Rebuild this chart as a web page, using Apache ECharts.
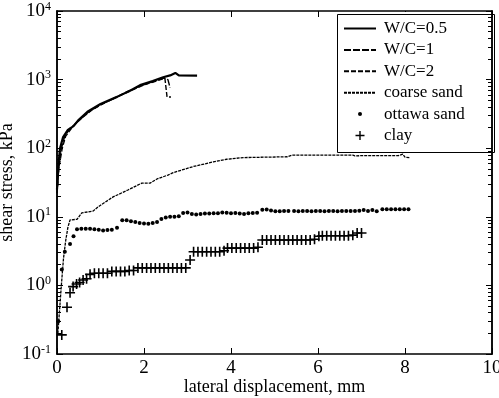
<!DOCTYPE html>
<html>
<head>
<meta charset="utf-8">
<script src="https://cdn.jsdelivr.net/npm/echarts@6/dist/echarts.min.js"></script>
<style>
  html, body { margin: 0; padding: 0; background: #fff; }
  #chart { width: 499px; height: 398px; }
</style>
</head>
<body>
<div id="chart"></div>
<script>
// tick labels
const xTicks = [0, 2, 4, 6, 8, 10];
const yDecades = [0.1, 1, 10, 100, 1000, 10000];
const minorSteps = [2, 3, 4, 5, 6, 7, 8, 9];

// series [displacement mm, stress kPa]
const wc05 = [[0,25],[0.03,55],[0.07,100],[0.14,145],[0.25,185],[0.38,210],[0.5,260],[0.7,340],[1.0,440],
  [1.38,560],[1.7,700],[1.91,830],[2.2,950],[2.44,1080],[2.6,1150],[2.72,1250],[2.8,1150],[3.22,1140]];
const wc1 = [[0.01,28],[0.05,60],[0.1,100],[0.18,150],[0.3,195],[0.4,220],[0.55,270],[0.75,345],[1.0,430],
  [1.3,530],[1.6,660],[1.9,800],[2.2,930],[2.45,1050],[2.55,1000],[2.6,760]];
const wc2 = [[0,22],[0.04,50],[0.12,100],[0.2,150],[0.32,190],[0.42,225],[0.6,285],[0.8,360],[1.1,460],
  [1.4,570],[1.7,690],[2.0,840],[2.3,960],[2.48,1050],[2.53,557],[2.62,557]];
const coarseSand = [[0.02,0.2],[0.1,1],[0.15,2.5],[0.2,4.5],[0.25,7],[0.3,9],[0.46,9.2],[0.57,11.4],[0.83,12.1],
  [0.94,13.9],[1.29,19.5],[1.63,24.6],[1.95,31],[2.14,31],[2.3,35.6],[2.55,40.6],[2.67,44],[3.13,54],[3.59,63],
  [3.9,69],[4.28,73],[5.29,75],[5.4,79],[6.8,79],[6.85,77],[7.0,78],[7.85,78],[7.95,82],[8.0,74],[8.1,73]];
const ottawaSand = [[0.03,0.3],[0.11,1.7],[0.18,3.1],[0.3,4.0],[0.38,5.2],[0.46,6.6],[0.56,6.7],[0.66,6.7],
  [0.76,6.7],[0.86,6.6],[0.96,6.5],[1.06,6.3],[1.16,6.4],[1.26,6.5],[1.38,6.9],[1.5,8.9],[1.6,8.9],[1.7,8.6],
  [1.8,8.4],[1.9,8.1],[2.0,8.0],[2.1,7.9],[2.2,8.1],[2.3,8.4],[2.4,9.3],[2.5,9.8],[2.6,10],[2.7,10],[2.8,10.2],
  [2.9,11.4],[3.0,11.6],[3.1,11.0],[3.2,10.8],[3.3,11.0],[3.4,11.2],[3.5,11.2],[3.6,11.3],[3.7,11.3],[3.8,11.6],
  [3.9,11.5],[4.0,11.3],[4.1,11.4],[4.2,11.2],[4.3,11.0],[4.4,11.3],[4.5,11.4],[4.6,11.5],[4.72,12.7],[4.82,12.8],
  [4.92,12.4],[5.02,12.0],[5.12,12.0],[5.22,12.1],[5.32,12.1],[5.45,12.1],[5.55,12.0],[5.65,12.1],[5.75,12.1],
  [5.85,12.0],[5.95,12.1],[6.05,12.1],[6.15,12.0],[6.25,12.1],[6.35,12.1],[6.45,12.0],[6.55,12.1],[6.65,12.1],
  [6.75,12.1],[6.85,12.2],[6.95,12.3],[7.05,12.6],[7.15,12.2],[7.25,12.6],[7.35,12.0],[7.48,12.9],[7.58,12.9],
  [7.68,12.9],[7.78,12.9],[7.88,12.9],[7.98,12.9],[8.08,12.9]];
const clay = [[0.11,0.19],[0.23,0.48],[0.3,0.78],[0.37,0.96],[0.45,1.05],[0.52,1.1],[0.6,1.2],[0.68,1.25],
  [0.76,1.45],[0.86,1.5],[0.96,1.5],[1.06,1.5],[1.16,1.5],[1.26,1.6],[1.36,1.6],[1.46,1.6],[1.56,1.6],[1.66,1.65],
  [1.76,1.65],[1.86,1.8],[1.96,1.8],[2.06,1.8],[2.16,1.8],[2.26,1.8],[2.36,1.8],[2.46,1.8],[2.56,1.8],[2.66,1.8],
  [2.76,1.8],[2.86,1.8],[2.96,1.8],[3.06,2.35],[3.14,3.1],[3.24,3.1],[3.34,3.1],[3.44,3.1],[3.54,3.1],[3.64,3.1],
  [3.74,3.1],[3.84,3.2],[3.92,3.5],[4.02,3.5],[4.12,3.5],[4.22,3.5],[4.32,3.5],[4.42,3.5],[4.52,3.5],[4.62,3.6],
  [4.72,4.6],[4.82,4.6],[4.92,4.6],[5.02,4.6],[5.12,4.6],[5.22,4.6],[5.32,4.6],[5.42,4.6],[5.52,4.6],[5.62,4.6],
  [5.72,4.6],[5.82,4.6],[5.92,4.7],[6.02,5.2],[6.1,5.3],[6.2,5.3],[6.3,5.3],[6.4,5.3],[6.5,5.3],[6.6,5.3],
  [6.7,5.3],[6.8,5.4],[6.9,5.8],[7.0,5.8]];

const FONT = 'Liberation Serif';
const minorTicks = [];
yDecades.slice(0, -1).forEach(d => minorSteps.forEach(m => minorTicks.push(d * m)));

const frame = { show: true, lineStyle: { color: '#000', width: 1.5 } };

function yAxisBase(pos, ticks, len, labels) {
  return {
    type: 'log', logBase: 10, min: 0.1, max: 10000, position: pos,
    axisLine: frame,
    splitLine: { show: false },
    axisTick: { show: true, inside: true, length: len, customValues: ticks, lineStyle: { color: '#000', width: 1 } },
    axisLabel: labels ? {
      show: true, margin: 6, customValues: yDecades,
      fontFamily: FONT,
      formatter: v => '{b|10}{s|' + Math.round(Math.log10(v)) + '}',
      rich: {
        b: { fontFamily: FONT, fontSize: 19, color: '#000' },
        s: { fontFamily: FONT, fontSize: 12, color: '#000', padding: [0, 0, 9, 0] }
      }
    } : { show: false }
  };
}

const lineIcon = { color: 'transparent', borderWidth: 0 };

const option = {
  animation: false,
  backgroundColor: '#fff',
  textStyle: { fontFamily: FONT, color: '#000' },
  grid: { left: 57, right: 7, top: 11, bottom: 44, outerBoundsMode: 'none', containLabel: false },
  xAxis: [{
    type: 'value', min: 0, max: 10, interval: 2, position: 'bottom',
    name: 'lateral displacement, mm', nameLocation: 'middle', nameGap: 24, nameMoveOverlap: false,
    nameTextStyle: { fontFamily: FONT, fontSize: 18, color: '#000' },
    axisLine: frame,
    splitLine: { show: false },
    axisTick: { inside: true, length: 6, lineStyle: { color: '#000' } },
    axisLabel: { margin: 5, fontFamily: FONT, fontSize: 19, color: '#000',
      formatter: v => xTicks.includes(v) ? String(v) : '' }
  }, {
    type: 'value', min: 0, max: 10, interval: 2, position: 'top',
    axisLine: frame,
    splitLine: { show: false },
    axisTick: { inside: true, length: 6, lineStyle: { color: '#000' } },
    axisLabel: { show: false }
  }],
  yAxis: [
    Object.assign(yAxisBase('left', yDecades, 6, true), {
      name: 'shear stress, kPa', nameLocation: 'middle', nameGap: 41, nameMoveOverlap: false,
      nameTextStyle: { fontFamily: FONT, fontSize: 18, color: '#000' }
    }),
    yAxisBase('left', minorTicks, 4, false),
    yAxisBase('right', yDecades, 6, false),
    yAxisBase('right', minorTicks, 4, false)
  ],
  legend: {
    orient: 'vertical', left: 335, top: 12,
    padding: [8, 6, 8, 8],
    itemWidth: 32, itemHeight: 14, itemGap: 4.4,
    backgroundColor: '#fff',
    textStyle: { fontFamily: FONT, fontSize: 17, lineHeight: 17, color: '#000', padding: [0, 0, 0, 3] },
    data: [
      { name: 'W/C=0.5', itemStyle: lineIcon },
      { name: 'W/C=1', itemStyle: lineIcon },
      { name: 'W/C=2', itemStyle: lineIcon },
      { name: 'coarse sand', itemStyle: lineIcon },
      { name: 'ottawa sand', icon: 'path://M0,0M32,14M14,7a2,2 0 1,0 4,0a2,2 0 1,0 -4,0z' },
      { name: 'clay', icon: 'path://M0,0M32,14M15.3,2.5h1.4v9h-1.4z M11.5,6.3h9v1.4h-9z' }
    ]
  },
  graphic: [{
    type: 'rect', z: 100, left: 335, top: 12,
    shape: { width: 157, height: 138 },
    style: { fill: null, stroke: '#000', lineWidth: 1 }
  }],
  series: [
    { name: 'W/C=0.5', type: 'line', data: wc05, symbol: 'none', color: '#000', lineStyle: { color: '#000', width: 2.2 } },
    { name: 'W/C=1', type: 'line', data: wc1, symbol: 'none', color: '#000', lineStyle: { color: '#000', width: 1.4, type: [7, 2] } },
    { name: 'W/C=2', type: 'line', data: wc2, symbol: 'none', color: '#000', lineStyle: { color: '#000', width: 1.4, type: [5, 2] } },
    { name: 'coarse sand', type: 'line', data: coarseSand, symbol: 'none', color: '#000', lineStyle: { color: '#000', width: 1.3, type: [3, 1] } },
    { name: 'ottawa sand', type: 'scatter', data: ottawaSand, symbol: 'circle', symbolSize: 4, color: '#000', itemStyle: { color: '#000', opacity: 1 } },
    { name: 'clay', type: 'scatter', data: clay, symbolSize: 10, color: '#000',
      symbol: 'path://M4.2,0H5.8V10H4.2Z M0,4.2H10V5.8H0Z', itemStyle: { color: '#000', opacity: 1 } }
  ]
};

const chart = echarts.init(document.getElementById('chart'));
chart.setOption(option);
</script>
</body>
</html>
